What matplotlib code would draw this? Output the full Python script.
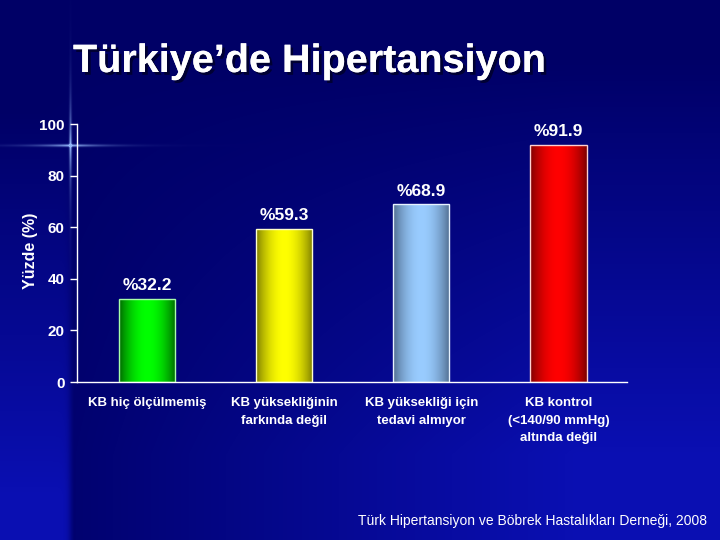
import numpy as np
import matplotlib
matplotlib.use('Agg')
import matplotlib.pyplot as plt
import matplotlib.patheffects as pe
from matplotlib.colors import to_rgb

# Data
categories = ['KB hiç ölçülmemiş',
              'KB yüksekliğinin\nfarkında değil',
              'KB yüksekliği için\ntedavi almıyor',
              'KB kontrol\n(<140/90 mmHg)\naltında değil']
values = [32.2, 59.3, 68.9, 91.9]
bar_centers = ['#00ff00', '#ffff00', '#99ccff', '#ff0000']
bar_edges = ['#006400', '#7a7a00', '#4e6a8c', '#7a0000']
bar_lines = ['#a8ffa8', '#ffffcc', '#e6f2ff', '#ffd0d0']
yticks = [0, 20, 40, 60, 80, 100]

TITLE = 'Türkiye’de Hipertansiyon'
YLABEL = 'Yüzde (%)'
SOURCE = 'Türk Hipertansiyon ve Böbrek Hastalıkları Derneği, 2008'

W, H = 720, 540
plt.rcParams['font.family'] = ['Liberation Sans', 'DejaVu Sans']

fig = plt.figure(figsize=(W / 100, H / 100), dpi=100)

# background: dark navy fading to brighter blue towards bottom right,
# brighter strip on the left and a small light flare
yy, xx = np.mgrid[0:H, 0:W].astype(float)
t = np.clip(xx / W * 1.25, 0, 1) * np.clip((yy / H - 0.1) * 1.35, 0, 1)
strip = np.clip((yy / H - 0.2) * 1.4, 0, 1) / (1 + np.exp((xx - 70) / 2.0))
t = np.maximum(t, strip)
dark = np.array([0.0, 0.0, 0.40])
light = np.array([0.04, 0.06, 0.70])
bg = dark + t[..., None] * (light - dark)
flare_h = np.exp(-((yy - 145) / 1.3) ** 2) * np.exp(-np.abs(xx - 70) / 28.0)
flare_v = np.exp(-((xx - 70) / 1.3) ** 2) * np.exp(-np.abs(yy - 145) / 32.0)
flare = np.clip(flare_h + flare_v, 0, 1)
flare_col = np.array([0.6, 0.75, 1.0])
bg = bg + flare[..., None] * (flare_col - bg) * 0.95
bg_ax = fig.add_axes([0, 0, 1, 1])
bg_ax.imshow(np.clip(bg, 0, 1), aspect='auto', extent=[0, 1, 0, 1])
bg_ax.axis('off')

# title with shadow
fig.text(73 / W, 1 - 61 / H, TITLE, color='white', fontsize=28.5, fontweight='bold',
         ha='left', va='center',
         path_effects=[pe.withSimplePatchShadow(offset=(2, -2), shadow_rgbFace='black', alpha=0.5),
                       pe.Normal()])

ax = fig.add_axes([77 / W, 1 - 382 / H, 550 / W, 258 / H])
ax.patch.set_alpha(0)

x = np.arange(len(values))
bars = ax.bar(x, values, width=0.41, color='none', edgecolor='none', zorder=3)

prof = np.sin(np.linspace(0, np.pi, 64)) ** 0.8
for patch, c0, c1, lc in zip(bars, bar_edges, bar_centers, bar_lines):
    a = np.array(to_rgb(c0))
    b = np.array(to_rgb(c1))
    grad = (a + prof[:, None] * (b - a))[None, :, :]
    x0 = patch.get_x()
    img = ax.imshow(grad, extent=[x0, x0 + patch.get_width(), 0, patch.get_height()],
                    aspect='auto', zorder=2)
    img.set_clip_path(patch)
    patch.set_edgecolor(lc)
    patch.set_linewidth(1.0)

for xi, v in zip(x, values):
    ax.annotate(f'%{v}', (xi, v), xytext=(0, 4), textcoords='offset points',
                ha='center', va='bottom', color='white', fontsize=12.5, fontweight='bold')

ax.set_xlim(-0.51, 3.5)
ax.set_ylim(0, 100)
ax.set_yticks(yticks)
ax.set_xticks(x)
ax.set_xticklabels(categories, fontsize=9.5, fontweight='bold', color='white', linespacing=1.6)
ax.tick_params(axis='x', length=0, pad=11)
ax.tick_params(axis='y', colors='white', length=5, width=1, pad=4, labelsize=11)
for lab in ax.get_yticklabels():
    lab.set_fontweight('bold')
for s in ['top', 'right']:
    ax.spines[s].set_visible(False)
for s in ['left', 'bottom']:
    ax.spines[s].set_color('white')
    ax.spines[s].set_linewidth(1)

fig.text(31 / W, 1 - 251 / H, YLABEL, rotation=90, color='white', fontsize=11.5,
         fontweight='bold', ha='center', va='center')
fig.text(707 / W, 1 - 521 / H, SOURCE, color='white', fontsize=10, ha='right', va='center')

fig.savefig('out.png', dpi=100)
